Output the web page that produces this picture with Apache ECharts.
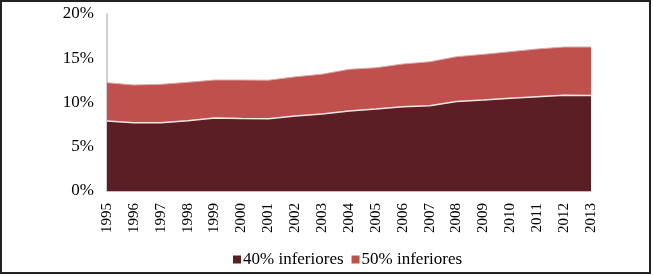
<!DOCTYPE html>
<html>
<head>
<meta charset="utf-8">
<script src="https://cdn.jsdelivr.net/npm/echarts@6/dist/echarts.min.js"></script>
<style>
  html, body { margin: 0; padding: 0; background: #fff; }
  #chart { width: 653px; height: 276px; box-sizing: border-box; }
  #frame { position: absolute; left: 0; top: 0; width: 651px; height: 274px; border: 2px solid #222; box-sizing: border-box; pointer-events: none; }
</style>
</head>
<body>
<div id="chart"></div>
<div id="frame"></div>
<script>
// years on the x axis
const years = ["1995", "1996", "1997", "1998", "1999", "2000", "2001", "2002", "2003", "2004",
  "2005", "2006", "2007", "2008", "2009", "2010", "2011", "2012", "2013"];

// share of income, in %
const bottom40 = [7.9, 7.72, 7.72, 7.95, 8.25, 8.2, 8.17, 8.47, 8.7, 9.04,
  9.27, 9.53, 9.64, 10.1, 10.28, 10.47, 10.66, 10.81, 10.78];
const bottom50 = [12.24, 11.98, 12.05, 12.28, 12.54, 12.54, 12.52, 12.9, 13.2, 13.75,
  13.93, 14.35, 14.6, 15.18, 15.44, 15.74, 16.05, 16.27, 16.27];

const seriesNames = ["40% inferiores", "50% inferiores"];

const chart = echarts.init(document.getElementById("chart"), null, { renderer: "canvas" });

const font = "'Liberation Serif', 'DejaVu Serif', serif";

const option = {
  animation: false,
  textStyle: { fontFamily: font },
  grid: { left: 107, right: 62, top: 14, bottom: 85 },
  legend: {
    data: seriesNames,
    bottom: 3,
    left: 228,
    icon: "rect",
    itemWidth: 8,
    itemHeight: 8,
    itemGap: 8,
    textStyle: { fontFamily: font, fontSize: 17, color: "#000", padding: [0, 0, 0, -3] }
  },
  xAxis: {
    type: "category",
    data: years,
    boundaryGap: false,
    axisLine: { lineStyle: { color: "#bfbfbf", width: 1 } },
    axisTick: { show: false },
    axisLabel: { rotate: 90, margin: 12, fontFamily: font, fontSize: 15, color: "#000" }
  },
  yAxis: {
    type: "value",
    min: 0,
    max: 20,
    interval: 5,
    splitLine: { show: false },
    axisLine: { show: true, lineStyle: { color: "#bfbfbf", width: 1.5 } },
    axisTick: { show: false },
    axisLabel: { formatter: "{value}%", margin: 13, fontFamily: font, fontSize: 17, color: "#000" }
  },
  series: [
    {
      name: seriesNames[1],
      type: "line",
      data: bottom50,
      symbol: "none",
      z: 2,
      itemStyle: { color: "#c0504d" },
      lineStyle: { color: "#d9aaa9", width: 1 },
      areaStyle: { color: "#c0504d", opacity: 1 }
    },
    {
      name: seriesNames[0],
      type: "line",
      data: bottom40,
      symbol: "none",
      z: 3,
      itemStyle: { color: "#5b1e24" },
      lineStyle: { color: "#f4e6e6", width: 1.5 },
      areaStyle: { color: "#5b1e24", opacity: 1 }
    }
  ]
};

chart.setOption(option);
</script>
</body>
</html>
